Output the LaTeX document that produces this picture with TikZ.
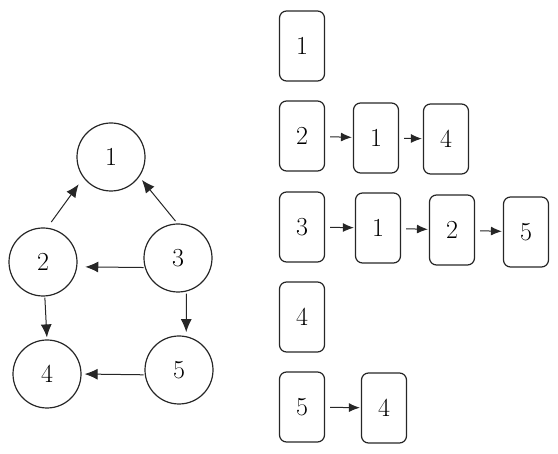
\documentclass[tikz,border=0pt]{standalone}
\usepackage{fontspec}
\usetikzlibrary{arrows.meta}
\begin{document}
\begin{tikzpicture}[x=1pt,y=-1pt,
  vtx/.style={draw=black!85, line width=1.2pt, circle, minimum size=68pt, inner sep=0pt, font=\fontsize{26}{30}\selectfont},
  cell/.style={draw=black!85, line width=1.2pt, rounded corners=7pt, minimum width=45pt, minimum height=70pt, inner sep=0pt, font=\fontsize{26}{30}\selectfont},
  garr/.style={line width=1pt, draw=black!85, -{Latex[length=13pt,width=11pt]}},
  larr/.style={line width=1pt, draw=black!85, -{Latex[length=11pt,width=9pt]}, shorten <=5pt, shorten >=1pt}]
\useasboundingbox (0,0) rectangle (558,454);
% graph
\node[vtx] (n1) at (111,157) {1};
\node[vtx] (n2) at (43,262) {2};
\node[vtx] (n3) at (178,258) {3};
\node[vtx] (n4) at (47,374) {4};
\node[vtx] (n5) at (179,370) {5};
\draw[garr, shorten <=7pt, shorten >=8pt] (n2.83) -- (n1.217);
\draw[garr, shorten <=3pt, shorten >=4pt] (n3.91) -- (n1.325);
\draw[garr, shorten <=1pt, shorten >=8pt] (n3.196) -- (n2.352);
\draw[garr, shorten <=1pt, shorten >=2pt] (n2.273) -- (n4.90);
\draw[garr, shorten <=2pt, shorten >=4pt] (n3.284) -- (n5.78);
\draw[garr, shorten <=1pt, shorten >=3pt] (n5.188) -- (n4.0);
% adjacency lists
\node[cell] (a1) at (302,46) {1};
\node[cell] (b2) at (302,136) {2};
\node[cell] (b1) at (376,138) {1};
\node[cell] (b4) at (446,139) {4};
\node[cell] (c3) at (302,227) {3};
\node[cell] (c1) at (378,228) {1};
\node[cell] (c2) at (452,230) {2};
\node[cell] (c5) at (526,232) {5};
\node[cell] (d4) at (302,317) {4};
\node[cell] (e5) at (302,407) {5};
\node[cell] (e4) at (384,408) {4};
\draw[larr] (b2) -- (b1);
\draw[larr] (b1) -- (b4);
\draw[larr] (c3) -- (c1);
\draw[larr] (c1) -- (c2);
\draw[larr] (c2) -- (c5);
\draw[larr] (e5) -- (e4);
\end{tikzpicture}
\end{document}
